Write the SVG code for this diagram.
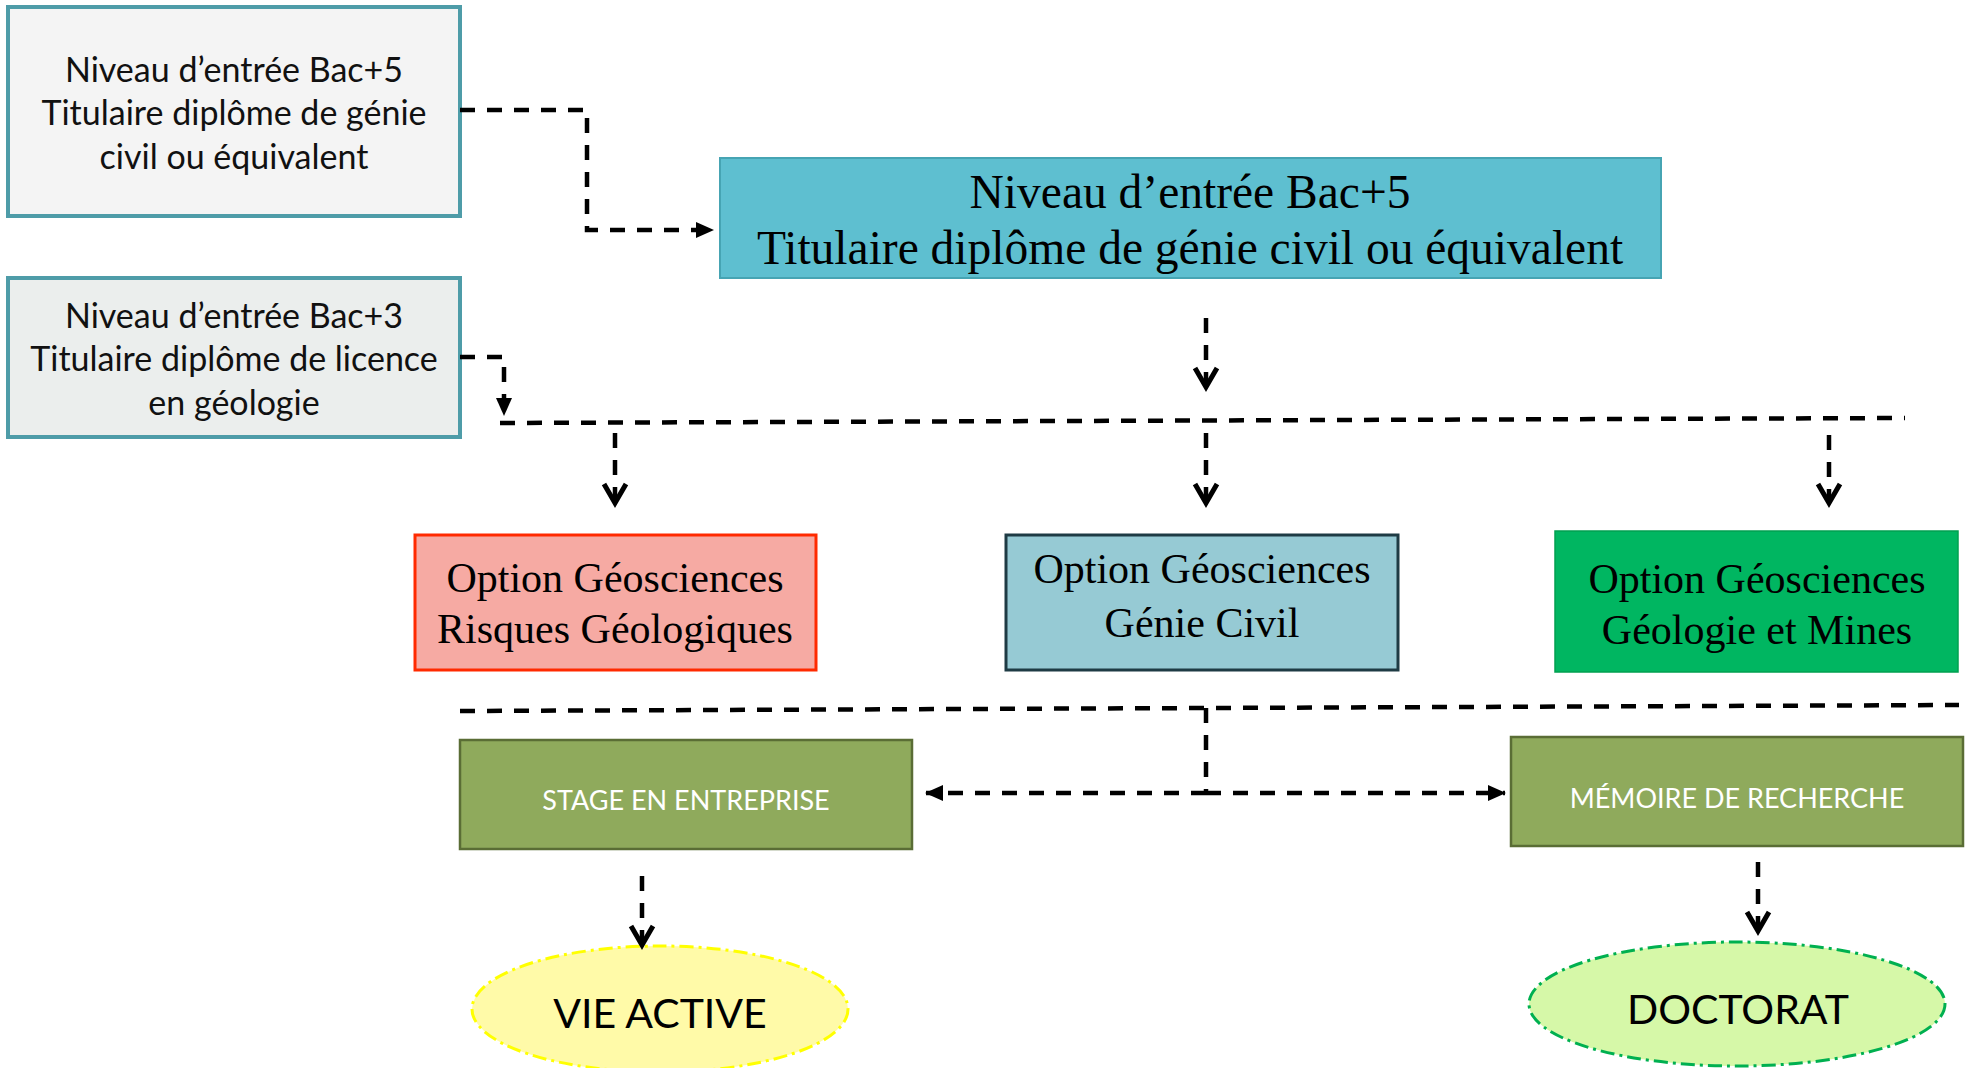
<svg xmlns="http://www.w3.org/2000/svg" width="1970" height="1068" viewBox="0 0 1970 1068">
<style>
.sans{font-family:Lato,"Liberation Sans",sans-serif;}
.serif{font-family:"Liberation Serif","Times New Roman",serif;}
.entry{fill:#f4f4f4;stroke:#4e9ca8;stroke-width:4;}
.etext{font-size:34px;fill:#111;text-anchor:middle;}
.otext{font-size:42px;fill:#000;text-anchor:middle;}
.olive{fill:#8faa5c;stroke:#5a6d35;stroke-width:2.5;}
.wtext{font-size:27px;fill:#fff;text-anchor:middle;}
.etx{font-size:41px;fill:#000;text-anchor:middle;}
.conn{fill:none;stroke:#000;stroke-width:4.5;stroke-dasharray:15 12;}
</style>
<defs>
<marker id="tri" markerUnits="userSpaceOnUse" markerWidth="18" markerHeight="18" viewBox="0 0 18 16" refX="17" refY="8" orient="auto">
<path d="M0,0 L18,8 L0,16 z" fill="#000"/>
</marker>
<marker id="vee" markerUnits="userSpaceOnUse" markerWidth="28" markerHeight="30" viewBox="-2 -2 28 30" refX="21" refY="13" orient="auto">
<path d="M2,2 L21,13 L2,24" fill="none" stroke="#000" stroke-width="5" stroke-linejoin="miter"/>
</marker>
</defs>

<g id="entry-bac5">
<rect class="entry" x="8" y="7" width="452" height="209"/>
<text class="sans etext" x="234" y="82">Niveau d’entrée Bac+5</text>
<text class="sans etext" x="234" y="125">Titulaire diplôme de génie</text>
<text class="sans etext" x="234" y="169">civil ou équivalent</text>
</g>

<g id="entry-bac3">
<rect class="entry" x="8" y="278" width="452" height="159" style="fill:#ebeeed"/>
<text class="sans etext" x="234" y="328">Niveau d’entrée Bac+3</text>
<text class="sans etext" x="234" y="371">Titulaire diplôme de licence</text>
<text class="sans etext" x="234" y="415">en géologie</text>
</g>

<g id="main">
<rect x="720" y="158" width="941" height="120" fill="#5ebfd0" stroke="#46a4b3" stroke-width="2"/>
<text class="serif" x="1190" y="208" font-size="47.5" text-anchor="middle" fill="#000">Niveau d’entrée Bac+5</text>
<text class="serif" x="1190" y="264" font-size="47.5" text-anchor="middle" fill="#000">Titulaire diplôme de génie civil ou équivalent</text>
</g>

<g id="opt-risques">
<rect x="415" y="535" width="401" height="135" fill="#f6aaa3" stroke="#ff2a00" stroke-width="3"/>
<text class="serif otext" x="615" y="592">Option Géosciences</text>
<text class="serif otext" x="615" y="643">Risques Géologiques</text>
</g>

<g id="opt-genie">
<rect x="1006" y="535" width="392" height="135" fill="#96cad4" stroke="#1e3b44" stroke-width="3"/>
<text class="serif otext" x="1202" y="583">Option Géosciences</text>
<text class="serif otext" x="1202" y="637">Génie Civil</text>
</g>

<g id="opt-mines">
<rect x="1555" y="531" width="403" height="141" fill="#00b661" stroke="#00a050" stroke-width="1.5"/>
<text class="serif otext" x="1757" y="593">Option Géosciences</text>
<text class="serif otext" x="1757" y="644">Géologie et Mines</text>
</g>

<g id="stage">
<rect class="olive" x="460" y="740" width="452" height="109"/>
<text class="sans wtext" x="686" y="810">STAGE EN ENTREPRISE</text>
</g>

<g id="memoire">
<rect class="olive" x="1511" y="737" width="452" height="109"/>
<text class="sans wtext" x="1737" y="808">MÉMOIRE DE RECHERCHE</text>
</g>

<g id="vie-active">
<ellipse cx="660" cy="1009" rx="188" ry="63" fill="#fffaa8" stroke="#ffff00" stroke-width="3" stroke-dasharray="14 5 3 5"/>
<text class="sans etx" x="660" y="1028">VIE ACTIVE</text>
</g>

<g id="doctorat">
<ellipse cx="1737" cy="1004" rx="208" ry="62" fill="#d6f8a8" stroke="#00b050" stroke-width="3" stroke-dasharray="14 5 3 5"/>
<text class="sans etx" x="1738" y="1024" font-size="40">DOCTORAT</text>
</g>

<g id="connectors">
<path class="conn" d="M460,110 H587 V230 H713" marker-end="url(#tri)"/>
<path class="conn" d="M460,357 H504 V415" marker-end="url(#tri)"/>
<path class="conn" d="M1206,318 V387" marker-end="url(#vee)"/>
<path class="conn" d="M500,423 L1905,418"/>
<path class="conn" d="M615,433 V503" marker-end="url(#vee)"/>
<path class="conn" d="M1206,433 V503" marker-end="url(#vee)"/>
<path class="conn" d="M1829,435 V503" marker-end="url(#vee)"/>
<path class="conn" d="M460,711 L1959,705"/>
<path class="conn" d="M1206,708 V793"/>
<path class="conn" d="M1206,793 H926" marker-end="url(#tri)"/>
<path class="conn" d="M1206,793 H1505" marker-end="url(#tri)"/>
<path class="conn" d="M642,876 V945" marker-end="url(#vee)"/>
<path class="conn" d="M1758,862 V931" marker-end="url(#vee)"/>
</g>
</svg>
